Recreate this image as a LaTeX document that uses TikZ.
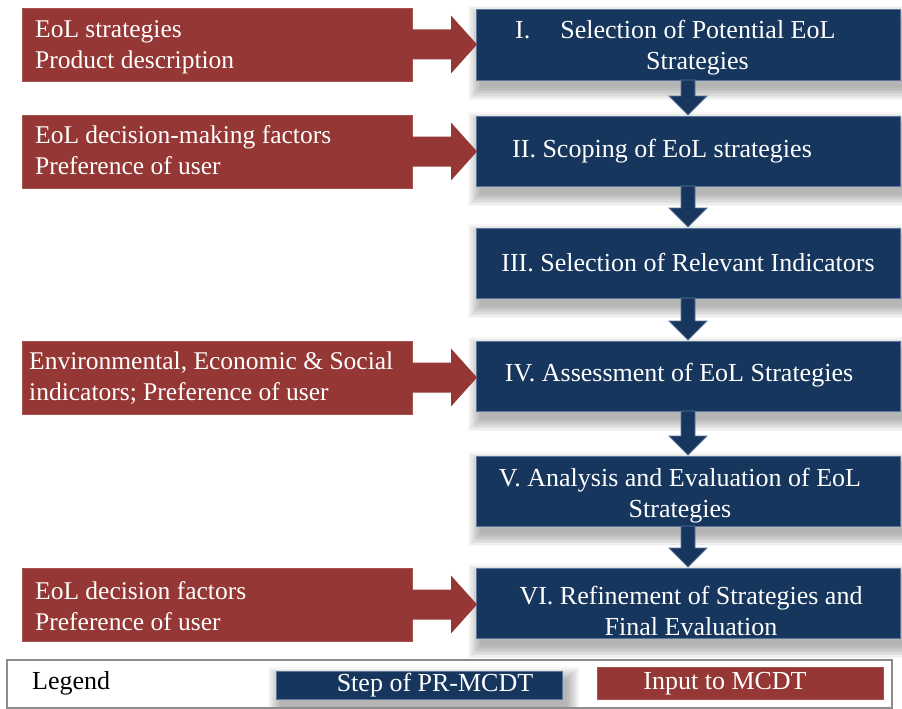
\documentclass[tikz,border=0pt]{standalone}
\usepackage{fontspec}
\setmainfont{Liberation Serif}
\usetikzlibrary{calc,backgrounds}
\definecolor{stepblue}{HTML}{17365D}
\definecolor{inred}{HTML}{953735}
\definecolor{edgeblue}{HTML}{5B7699}
\definecolor{edgered}{HTML}{A55250}
\begin{document}
\begin{tikzpicture}[x=1pt,y=-1pt,
  stepbox/.style={fill=stepblue, draw=edgeblue, line width=1pt, inner sep=0pt, outer sep=0pt,
    minimum width=424pt, minimum height=70pt, anchor=north west},
  inbox/.style={fill=inred, draw=edgered, line width=0.6pt, inner sep=0pt, outer sep=0pt,
    minimum width=390pt, minimum height=73pt, anchor=north west},
  steptext/.style={text=white, font=\fontsize{26}{31}\selectfont, align=center, inner sep=0pt},
  intext/.style={text=white, font=\fontsize{25.5}{31}\selectfont, align=left, anchor=west, inner sep=0pt},
  legtext/.style={font=\fontsize{26}{28}\selectfont, inner sep=0pt},
  downarr/.style={fill=stepblue, draw=edgeblue, line width=0.8pt},
  inarr/.style={fill=inred, draw=none},
  shadowlayer/.style={fill=black, opacity=0.035},
]
\useasboundingbox (0,0) rectangle (902,709);

% step boxes
\node[stepbox] (s1) at (476,10) {};
\node[stepbox] (s2) at (476,116) {};
\node[stepbox] (s3) at (476,228) {};
\node[stepbox] (s4) at (476,341) {};
\node[stepbox] (s5) at (476,456) {};
\node[stepbox] (s6) at (476,568) {};

\node[steptext, anchor=west, align=left] (t1) at (515,48) {I.\hspace{30pt}Selection of Potential EoL\\\hspace*{131pt}Strategies};
\node[steptext, anchor=west] (t2) at (512,151) {II. Scoping of EoL strategies};
\node[steptext] (t3) at (688,263) {III. Selection of Relevant Indicators};
\node[steptext] (t4) at (679,375) {IV. Assessment of EoL Strategies};
\node[steptext] (t5) at (680,496) {V. Analysis and Evaluation of EoL\\Strategies};
\node[steptext] (t6) at (691,611) {VI. Refinement of Strategies and\\Final Evaluation};

% down arrows
\foreach \u/\v in {s1/s2,s2/s3,s3/s4,s4/s5,s5/s6}{
  \draw[downarr] ($(\u.south)+(-7,0)$) -- ($(\v.north)+(-7,-20)$) -- ($(\v.north)+(-19,-20)$)
    -- ($(\v.north)+(0,-1)$) -- ($(\v.north)+(19,-20)$) -- ($(\v.north)+(7,-20)$) -- ($(\u.south)+(7,0)$) -- cycle;
}

% input boxes
\node[inbox] (r1) at (22,8) {};
\node[inbox] (r2) at (22,115) {};
\node[inbox] (r4) at (22,341) {};
\node[inbox] (r6) at (22,568) {};

\node[intext] (i1) at (35,47) {EoL strategies\\Product description};
\node[intext] (i2) at (35,150) {EoL decision-making factors\\Preference of user};
\node[intext] (i4) at (29,378) {Environmental, Economic \& Social\\indicators; Preference of user};
\node[intext] (i6) at (35,606) {EoL decision factors\\Preference of user};

% input arrows
\foreach \r/\s in {r1/s1,r2/s2,r4/s4,r6/s6}{
  \fill[inarr] ($(\r.east)+(-1,-15)$) -- ($(\r.east -| \s.west)+(-25,-15)$) -- ($(\r.east -| \s.west)+(-25,-29)$)
    -- ($(\r.east -| \s.west)+(1,0)$) -- ($(\r.east -| \s.west)+(-25,29)$) -- ($(\r.east -| \s.west)+(-25,15)$)
    -- ($(\r.east)+(-1,15)$) -- cycle;
}

% legend
\node[draw=black!45, line width=1.5pt, inner sep=0pt, minimum width=885pt, minimum height=48pt, anchor=north west] (leg) at (6,659) {};
\node[legtext, anchor=west] (legt) at (32,683) {Legend};
\node[fill=stepblue, draw=edgeblue, line width=1.2pt, inner sep=0pt, minimum width=286pt, minimum height=28pt, anchor=north west] (lb) at (276,671) {};
\node[legtext, text=white] (lbt) at (435,685) {Step of PR-MCDT};
\node[fill=inred, draw=edgered, line width=0.6pt, inner sep=0pt, minimum width=286pt, minimum height=32pt, anchor=north west] (lr) at (597,667) {};
\node[legtext, text=white] (lrt) at (725,684) {Input to MCDT};

% soft shadows
\begin{scope}[on background layer]
  \fill[white] (0,0) rectangle (902,709);
  \foreach \b in {s1,s2,s3,s4,s5,s6,lb}{
    \foreach \e in {0,1.5,...,12}{
      \fill[shadowlayer] ($(\b.north west)+(4-\e,8-\e)$) rectangle ($(\b.south east)+(4+\e,8+\e)$);
    }
  }
\end{scope}
\end{tikzpicture}
\end{document}
